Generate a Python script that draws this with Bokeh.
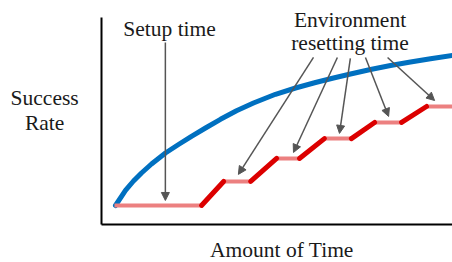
from bokeh.plotting import figure
from bokeh.models import Range1d, Label, Arrow, NormalHead, FixedTicker, LinearAxis
from bokeh.embed import file_html
from bokeh.resources import INLINE

# Success rate curve (time 0..100, rate 0..100)
curve_t = [3.99, 6.84, 9.12, 11.40, 14.25, 18.23, 21.94, 25.64, 29.63, 33.90, 38.46, 43.30,
           49.57, 55.27, 60.97, 66.10, 70.94, 76.64, 82.34, 88.03, 93.73, 100.0]
curve_r = [9.18, 16.43, 21.01, 24.88, 29.23, 34.54, 38.65, 42.61, 46.62, 50.82, 54.98, 58.70,
           62.90, 65.94, 68.60, 70.77, 72.71, 74.88, 76.81, 78.50, 80.10, 81.64]

# Step curve: flat (setup / resetting) and rising (training) segments
flat_t0 = [3.7, 34.8, 49.9, 63.5, 77.8, 92.6]
flat_t1 = [28.5, 42.5, 56.4, 71.2, 85.5, 103.0]
flat_r = [9.2, 20.8, 31.9, 41.5, 49.3, 57.0]
rise_t0 = [28.5, 42.5, 56.4, 71.2, 85.5]
rise_t1 = [34.8, 49.9, 63.5, 77.8, 92.6]
rise_r0 = [9.2, 20.8, 31.9, 41.5, 49.3]
rise_r1 = [20.8, 31.9, 41.5, 49.3, 57.0]

# Annotation arrows (start -> end)
setup_arrow = (18.2, 87.9, 18.2, 11.6)
reset_x0 = [60.4, 67.2, 70.9, 75.2, 81.5]
reset_y0 = [80.7, 80.7, 80.2, 80.7, 80.7]
reset_x1 = [39.0, 54.7, 67.8, 81.8, 94.9]
reset_y1 = [24.2, 34.8, 44.0, 52.2, 59.9]

# axis extents
t_bounds = (0, 100)
r_bounds = (0, 100)

FONT = "Liberation Serif"
FS = "21.5px"
TXT = "#1a1a1a"
GRAY = "#555555"

p = figure(width=452, height=262, output_backend="svg", toolbar_location=None,
           x_range=Range1d(-28.77, 100), y_range=Range1d(-18.36, 108.21),
           x_axis_location=None, y_axis_location=None,
           min_border=0)
p.outline_line_color = None
p.grid.visible = False

xa = LinearAxis(fixed_location=0, bounds=t_bounds, ticker=FixedTicker(ticks=[]))
ya = LinearAxis(fixed_location=0, bounds=r_bounds, ticker=FixedTicker(ticks=[]))
for ax in (xa, ya):
    ax.major_tick_line_color = None
    ax.minor_tick_line_color = None
    ax.major_label_text_font_size = "0px"
    ax.axis_line_width = 2
    ax.axis_line_color = "black"
p.add_layout(xa, "below")
p.add_layout(ya, "left")

p.line(curve_t, curve_r, line_color="#0070c0", line_width=5, line_cap="round", line_join="round")
p.segment(flat_t0, flat_r, flat_t1, flat_r, line_color="#ec8080", line_width=4)
p.segment(rise_t0, rise_r0, rise_t1, rise_r1, line_color="#dc0000", line_width=5, line_cap="round")

p.add_layout(Arrow(end=NormalHead(size=8, fill_color=GRAY, line_color=GRAY),
                   x_start=setup_arrow[0], y_start=setup_arrow[1],
                   x_end=setup_arrow[2], y_end=setup_arrow[3],
                   line_color=GRAY, line_width=1.5))
for a, b, c, d in zip(reset_x0, reset_y0, reset_x1, reset_y1):
    p.add_layout(Arrow(end=NormalHead(size=8, fill_color=GRAY, line_color=GRAY),
                       x_start=a, y_start=b, x_end=c, y_end=d,
                       line_color=GRAY, line_width=1.5))

def lab(x, y, t):
    p.add_layout(Label(x=x, y=y, text=t, text_font=FONT, text_font_size=FS,
                       text_color=TXT, text_align="center", text_baseline="alphabetic"))

lab(19.4, 94.4, "Setup time")
lab(70.8, 99.0, "Environment")
lab(70.8, 87.9, "resetting time")
lab(-16.2, 61.3, "Success")
lab(-16.2, 49.2, "Rate")
lab(51.4, -12.2, "Amount of Time")

open("out.html", "w").write(file_html(p, INLINE))
